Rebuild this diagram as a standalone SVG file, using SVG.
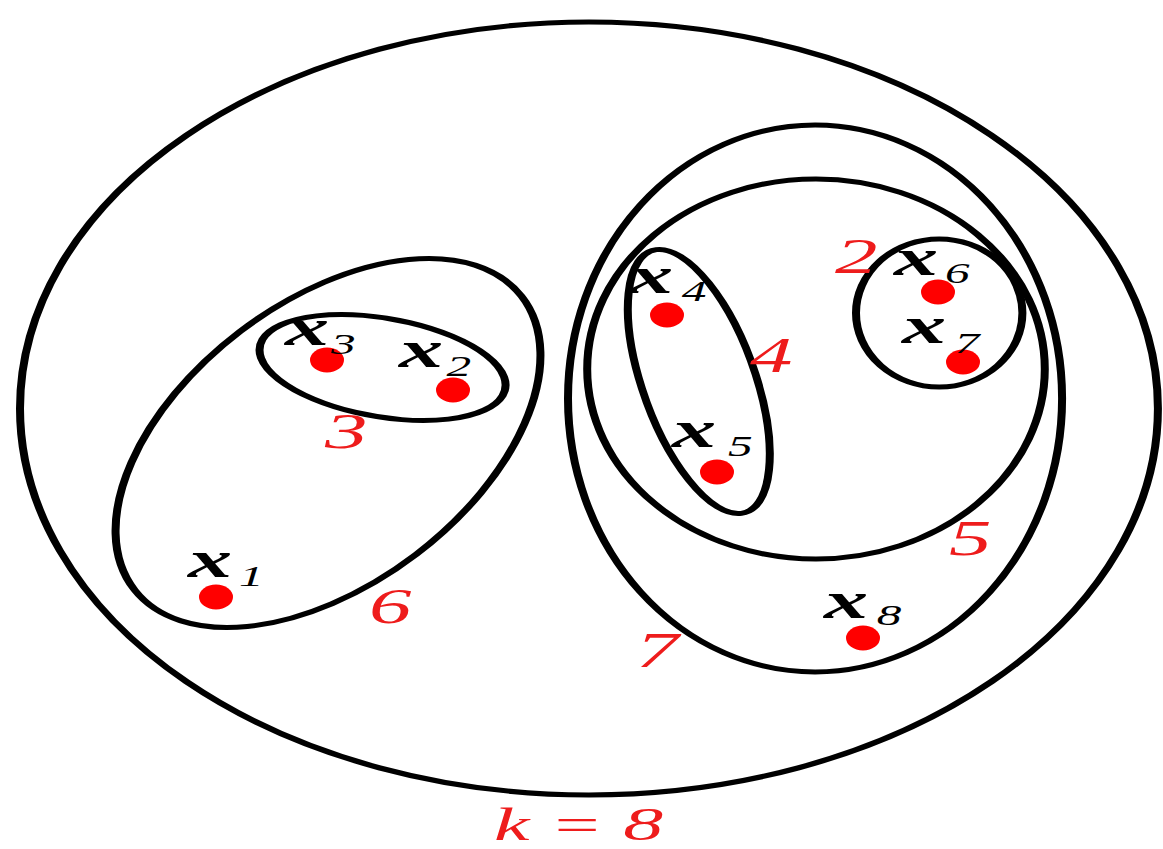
<svg xmlns="http://www.w3.org/2000/svg" width="1163" height="849" viewBox="0 0 1163 849">
<style>
.ring{fill:none;stroke:#000;stroke-width:5}
.pt{fill:#ff0000}
.xl{font-family:"Liberation Serif","Times New Roman",serif;font-weight:bold;font-style:italic;font-size:52px;fill:#000}
.sub{font-weight:normal;font-style:italic;font-size:29px}
.num{font-family:"Liberation Serif","Times New Roman",serif;font-style:italic;font-size:50px;fill:#ee1c1c}
</style>
<rect width="1163" height="849" fill="#fff"/>
<g id="clusters" transform="scale(1.6,1)">
  <g id="cluster-8"><ellipse class="ring" cx="368.1" cy="408.5" rx="355.6" ry="386.5"/></g>
  <g id="cluster-7"><ellipse class="ring" cx="509.4" cy="398.5" rx="154.4" ry="273.5"/></g>
  <g id="cluster-5"><ellipse class="ring" cx="510" cy="369" rx="143" ry="190"/></g>
  <g id="cluster-4"><ellipse class="ring" cx="436.75" cy="381.5" rx="134.5" ry="36.2" transform="rotate(78.6 436.75 381.5)"/></g>
  <g id="cluster-2"><ellipse class="ring" cx="587" cy="313" rx="52" ry="74"/></g>
  <g id="cluster-6"><ellipse class="ring" cx="205" cy="443" rx="200.2" ry="107.7" transform="rotate(-62.6 205 443)"/></g>
  <g id="cluster-3"><ellipse class="ring" cx="239.1" cy="367.5" rx="80.1" ry="48" transform="rotate(20.5 239.1 367.5)"/></g>
</g>
<g id="connectors"/>
<g id="points">
  <g id="p1"><ellipse class="pt" cx="216" cy="597" rx="17" ry="12.5"/><text class="xl" transform="translate(188,577) scale(1.7,1)">x<tspan class="sub" dx="4" dy="9">1</tspan></text></g>
  <g id="p2"><ellipse class="pt" cx="453" cy="390" rx="17" ry="12.5"/><text class="xl" transform="translate(399,367) scale(1.7,1)">x<tspan class="sub" dx="2" dy="9">2</tspan></text></g>
  <g id="p3"><ellipse class="pt" cx="327" cy="360" rx="17" ry="12.5"/><text class="xl" transform="translate(285,345) scale(1.7,1)">x<tspan class="sub" dx="1" dy="9">3</tspan></text></g>
  <g id="p4"><ellipse class="pt" cx="667" cy="315" rx="17" ry="12.5"/><text class="xl" transform="translate(629,293) scale(1.7,1)">x<tspan class="sub" dx="5" dy="8">4</tspan></text></g>
  <g id="p5"><ellipse class="pt" cx="717" cy="472" rx="17" ry="12.5"/><text class="xl" transform="translate(672,447) scale(1.7,1)">x<tspan class="sub" dx="7" dy="9">5</tspan></text></g>
  <g id="p6"><ellipse class="pt" cx="938" cy="292" rx="17" ry="12.5"/><text class="xl" transform="translate(894,275) scale(1.7,1)">x<tspan class="sub" dx="4" dy="8">6</tspan></text></g>
  <g id="p7"><ellipse class="pt" cx="963" cy="362" rx="17" ry="12.5"/><text class="xl" transform="translate(902,343) scale(1.7,1)">x<tspan class="sub" dx="5" dy="10">7</tspan></text></g>
  <g id="p8"><ellipse class="pt" cx="863" cy="638" rx="17" ry="12.5"/><text class="xl" transform="translate(824,618) scale(1.7,1)">x<tspan class="sub" dx="5" dy="7">8</tspan></text></g>
</g>
<g id="labels">
  <text class="num" transform="translate(325,448) scale(1.7,1)">3</text>
  <text class="num" transform="translate(369,623) scale(1.7,1)">6</text>
  <text class="num" transform="translate(750,372) scale(1.7,1)">4</text>
  <text class="num" transform="translate(835,273) scale(1.7,1)">2</text>
  <text class="num" transform="translate(949,555) scale(1.7,1)">5</text>
  <text class="num" transform="translate(636,667) scale(1.7,1)">7</text>
  <text class="num" style="font-size:47px" transform="translate(494,840) scale(1.7,1)">k = 8</text>
</g>
</svg>
